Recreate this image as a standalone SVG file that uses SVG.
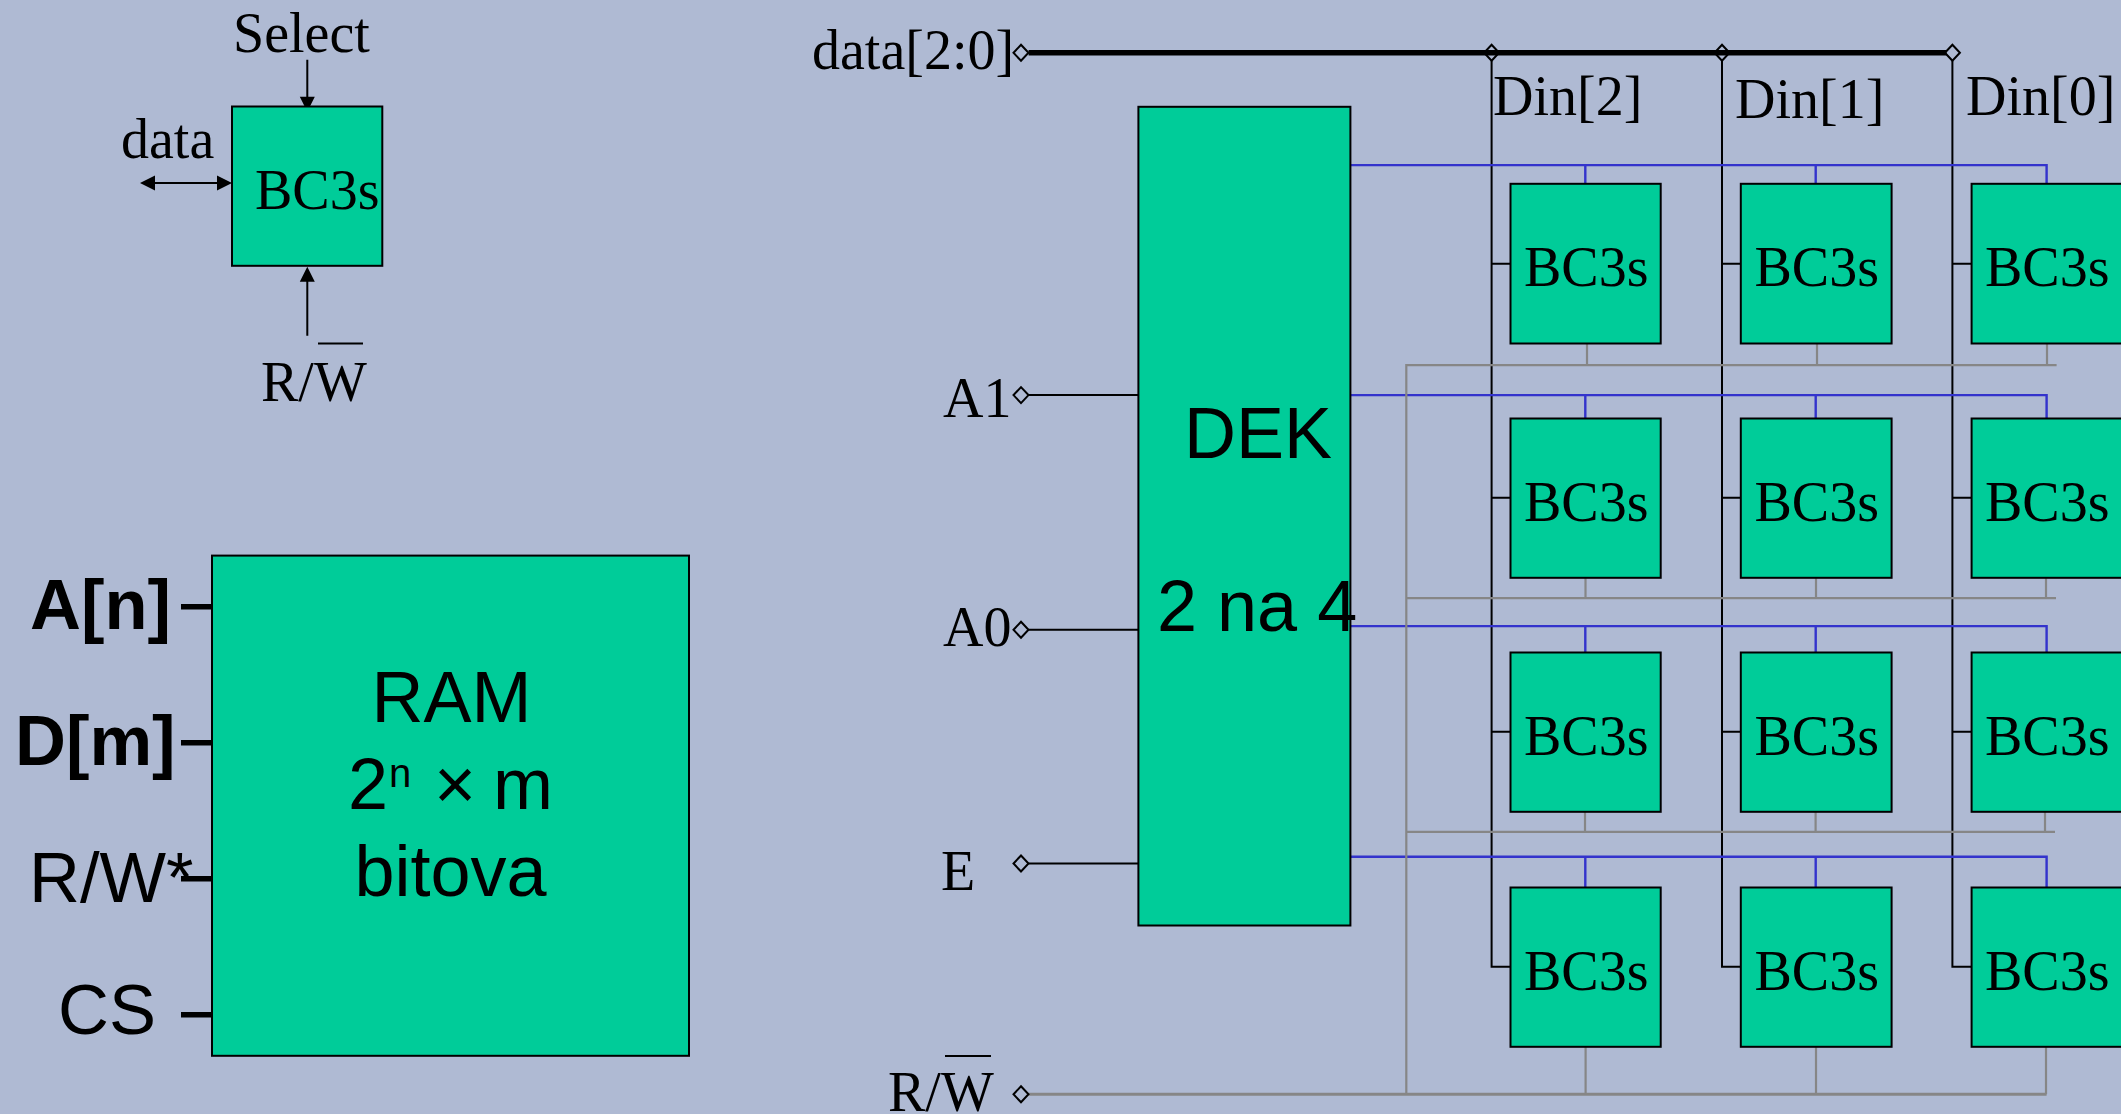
<svg xmlns="http://www.w3.org/2000/svg" width="2121" height="1114" viewBox="0 0 2121 1114">
<style>
.box{fill:#00CC99;stroke:#000;stroke-width:2}
.k{fill:none;stroke:#000;stroke-width:2}
.b{fill:none;stroke:#3333CC;stroke-width:2.4}
.g{fill:none;stroke:#868686;stroke-width:2.2}
.d{fill:none;stroke:#000;stroke-width:2}
.s{font-family:"Liberation Serif","Times New Roman",serif;font-size:56px;fill:#000}
.a{font-family:"Liberation Sans",Arial,sans-serif;font-size:72px;fill:#000}
.l{font-family:"Liberation Sans",Arial,sans-serif;font-size:70.5px;fill:#000}
.ab{font-family:"Liberation Sans",Arial,sans-serif;font-size:70.5px;font-weight:bold;fill:#000}
</style>
<defs>
<path id="dia" class="d" d="M0,-8L7.5,0L0,8L-7.5,0Z"/>
</defs>
<rect width="2121" height="1114" fill="#AFBAD3"/>
<g id="diagram" transform="translate(0,0.8)">
<g id="connectors">
<path class="k" d="M307.3,59V100M307.3,335V275M150,182.3H222"/>
<path d="M299.8,96H314.8L307.3,111Z M299.8,281H314.8L307.3,266Z M155,174.8V189.8L140,182.3Z M217,174.8V189.8L232,182.3Z" fill="#000"/>
<path d="M181,606H212M181,742H212M181,878H212M181,1014H212" stroke="#000" stroke-width="5.5" fill="none"/>
<path d="M1028.6,52H1946.6" stroke="#000" stroke-width="5.5" fill="none"/>
<path class="k" d="M1028.6,394.3H1138.4M1028.6,629H1138.4M1028.6,862.7H1138.4"/>
<path class="k" d="M1491.6,60V966H1510.5M1491.6,263H1510.5M1491.6,497H1510.5M1491.6,731H1510.5"/>
<path class="k" d="M1722,60V966H1740.8M1722,263H1740.8M1722,497H1740.8M1722,731H1740.8"/>
<path class="k" d="M1952.4,60V966H1971.6M1952.4,263H1971.6M1952.4,497H1971.6M1952.4,731H1971.6"/>
<path class="b" d="M1350.4,164.3H2046.6V183M1585.3,164.3V183M1815.7,164.3V183"/>
<path class="b" d="M1350.4,394.3H2046.6V418M1585.3,394.3V418M1815.7,394.3V418"/>
<path class="b" d="M1350.4,625.3H2046.6V652M1585.3,625.3V652M1815.7,625.3V652"/>
<path class="b" d="M1350.4,856H2046.6V887M1585.3,856V887M1815.7,856V887"/>
<path class="g" d="M1406.3,1093.5V364.3H2056.6M1406.3,597.3H2056M1406.3,831H2055"/>
<path class="g" d="M1587,342.7V364.3M1817,342.7V364.3M2047,342.7V364.3M1585.5,577V597.3M1816,577V597.3M2046,577V597.3M1585,811V831M1815.6,811V831M2045,811V831M1585.6,1046V1093.5M1816,1046V1093.5M2046,1046V1093.5"/>
<path class="g" style="stroke-width:3" d="M1028.6,1093.5H2046.6"/>
<use href="#dia" x="1021" y="52"/>
<use href="#dia" x="1491.6" y="52"/>
<use href="#dia" x="1722" y="52"/>
<use href="#dia" x="1952.4" y="52"/>
<use href="#dia" x="1021" y="394.3"/>
<use href="#dia" x="1021" y="629"/>
<use href="#dia" x="1021" y="862.7"/>
<use href="#dia" x="1021" y="1093.5"/>
</g>
<g id="bc3s-key">
<rect class="box" x="232" y="105.7" width="150.3" height="159.3"/>
<text class="s" x="255" y="208">BC3s</text>
</g>
<g id="key-labels">
<text class="s" x="233" y="51.5">Select</text>
<text class="s" x="121" y="157.5">data</text>
<text class="s" x="261" y="400">R/W</text>
<path class="k" d="M318,342.7H363"/>
</g>
<g id="ram">
<rect class="box" x="212" y="554.8" width="477" height="500.2"/>
<text class="a" x="451.5" y="721" text-anchor="middle">RAM</text>
<text class="a" x="348" y="808">2<tspan x="389" y="786" font-size="40">n</tspan><tspan x="434" y="808">×</tspan><tspan x="493" y="808">m</tspan></text>
<text class="a" x="450.5" y="895.5" text-anchor="middle">bitova</text>
</g>
<g id="ram-labels">
<text class="ab" x="30" y="628">A[n]</text>
<text class="ab" x="15" y="764">D[m]</text>
<text class="l" x="29" y="901">R/W*</text>
<text class="l" x="58" y="1033">CS</text>
</g>
<g id="dek">
<rect class="box" x="1138.4" y="106" width="212" height="818.7"/>
<text class="a" x="1184" y="457.5">DEK</text>
<text class="a" x="1157" y="630.5">2 na 4</text>
</g>
<g id="bus-labels">
<text class="s" x="812" y="68.5">data[2:0]</text>
<text class="s" x="1493" y="114.5">Din[2]</text>
<text class="s" x="1735" y="117">Din[1]</text>
<text class="s" x="1966" y="114.5">Din[0]</text>
<text class="s" x="943" y="416">A1</text>
<text class="s" x="943" y="645.5">A0</text>
<text class="s" x="941" y="889">E</text>
<text class="s" x="888" y="1110.5">R/W</text>
<path class="k" d="M945,1055.3H991"/>
</g>
<g id="cell-0-0"><rect class="box" x="1510.5" y="183" width="150.2" height="159.7"/><text class="s" x="1524" y="285.5">BC3s</text></g>
<g id="cell-0-1"><rect class="box" x="1740.8" y="183" width="150.8" height="159.7"/><text class="s" x="1754.5" y="285.5">BC3s</text></g>
<g id="cell-0-2"><rect class="box" x="1971.6" y="183" width="152" height="159.7"/><text class="s" x="1985" y="285.5">BC3s</text></g>
<g id="cell-1-0"><rect class="box" x="1510.5" y="417.7" width="150.2" height="159.3"/><text class="s" x="1524" y="520.5">BC3s</text></g>
<g id="cell-1-1"><rect class="box" x="1740.8" y="417.7" width="150.8" height="159.3"/><text class="s" x="1754.5" y="520.5">BC3s</text></g>
<g id="cell-1-2"><rect class="box" x="1971.6" y="417.7" width="152" height="159.3"/><text class="s" x="1985" y="520.5">BC3s</text></g>
<g id="cell-2-0"><rect class="box" x="1510.5" y="651.7" width="150.2" height="159.3"/><text class="s" x="1524" y="754.5">BC3s</text></g>
<g id="cell-2-1"><rect class="box" x="1740.8" y="651.7" width="150.8" height="159.3"/><text class="s" x="1754.5" y="754.5">BC3s</text></g>
<g id="cell-2-2"><rect class="box" x="1971.6" y="651.7" width="152" height="159.3"/><text class="s" x="1985" y="754.5">BC3s</text></g>
<g id="cell-3-0"><rect class="box" x="1510.5" y="886.7" width="150.2" height="159.3"/><text class="s" x="1524" y="989">BC3s</text></g>
<g id="cell-3-1"><rect class="box" x="1740.8" y="886.7" width="150.8" height="159.3"/><text class="s" x="1754.5" y="989">BC3s</text></g>
<g id="cell-3-2"><rect class="box" x="1971.6" y="886.7" width="152" height="159.3"/><text class="s" x="1985" y="989">BC3s</text></g>
</g>
</svg>
